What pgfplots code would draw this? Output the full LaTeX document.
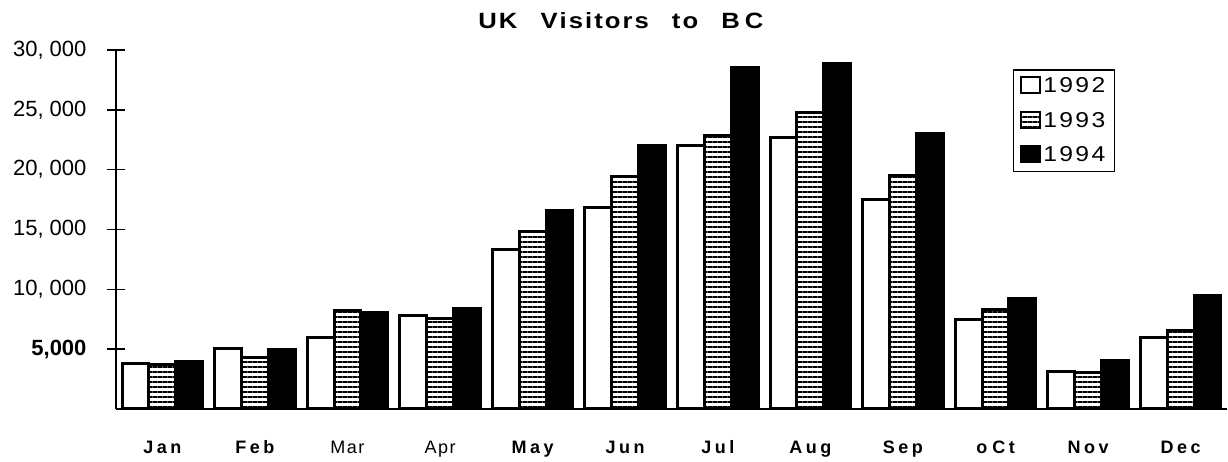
\documentclass[border=0pt]{standalone}
\usepackage{fontspec}
\setmainfont{Liberation Sans}
\usepackage{graphicx}
\usepackage{pgfplots}
\pgfplotsset{compat=1.18}
\usetikzlibrary{patterns.meta}

% Monthly visitors from the UK, by year
\pgfplotstableread{
x    a      b      c
0.5  3800   3700   4000
1.5  5050   4300   4950
2.5  5950   8200   8050
3.5  7850   7600   8400
4.5  13350  14800  16550
5.5  16800  19400  22000
6.5  22000  22850  28550
7.5  22700  24800  28900
8.5  17500  19500  23000
9.5  7450   8300   9200
10.5 3100   3050   4050
11.5 5950   6600   9450
}\visitors

% letter-spaced word: \spaced{kern}{word}
\makeatletter
\newcommand\spaced[2]{\def\sp@k{#1}\sp@loop#2\@nil}
\def\sp@loop#1#2\@nil{#1\ifx\relax#2\relax\else\kern\sp@k\sp@loop#2\@nil\fi}
\makeatother
\newcommand{\monthb}[1]{{\bfseries\spaced{3.5pt}{#1}}}
\newcommand{\monthr}[1]{{\spaced{1.5pt}{#1}}}
\newcommand{\yearlabel}[1]{\resizebox{62pt}{15pt}{\spaced{2pt}{#1}}}

\begin{document}
\begin{tikzpicture}
\useasboundingbox (-116pt,-53pt) rectangle (1112pt,409pt);
\begin{axis}[
  scale only axis,
  width=1111pt, height=359pt,
  xmin=0, xmax=12, ymin=0, ymax=30000,
  clip=false,
  axis x line=bottom, axis y line=left,
  axis line style={-, line width=2pt},
  tick align=center,
  major tick length=18pt,
  tick style={black, line width=1.6pt},
  xtick={0.5,1.5,...,11.5},
  x tick style={draw=none},
  minor xtick={0,1,...,12},
  minor x tick style={line width=1.6pt},
  minor tick length=18pt,
  xticklabels={\monthb{Jan},\monthb{Feb},\monthr{Mar},\monthr{Apr},\monthb{May},\monthb{Jun},\monthb{Jul},\monthb{Aug},\monthb{Sep},{\monthb{o}\ \monthb{Ct}},\monthb{Nov},\monthb{Dec}},
  xticklabel style={font=\fontsize{18}{21}\selectfont, anchor=base, yshift=-26pt},
  ytick={5000,10000,...,30000},
  yticklabels={{\textbf{5,000}},{10, 000},{15, 000},{20, 000},{25, 000},{30, 000}},
  yticklabel style={font=\fontsize{22}{26}\selectfont, anchor=east, xshift=-17pt},
  scaled y ticks=false,
  ybar, bar width=0.29,
  legend style={at={(0.807,0.947)}, anchor=north west, draw=black, line width=1.5pt,
    font=\fontsize{21}{25}\selectfont, inner xsep=7pt, inner ysep=6pt, row sep=14pt,
    legend cell align=left},
  legend image code/.code={\draw[#1, line width=2pt] (0pt,-7pt) rectangle (19pt,9pt);},
]
\addplot[bar shift=-0.29, draw=black, line width=3pt, fill=white]
  table[x=x, y=a] {\visitors};
\addplot[bar shift=0, draw=black, line width=3pt,
  pattern={Lines[angle=0, distance=5pt, line width=2pt]}, pattern color=black]
  table[x=x, y=b] {\visitors};
\addplot[bar shift=0.29, draw=black, line width=3pt, fill=black]
  table[x=x, y=c] {\visitors};
\legend{\yearlabel{1992},\yearlabel{1993},\yearlabel{1994}}
\node[anchor=center] at (rel axis cs:0.4545,1.082)
  {\resizebox{285pt}{16pt}{\bfseries\spaced{0.8pt}{UK}\hspace{9pt}\spaced{0.8pt}{Visitors}\hspace{9pt}\spaced{0.8pt}{to}\hspace{9pt}\spaced{2pt}{BC}}};
\end{axis}
\end{tikzpicture}
\end{document}
